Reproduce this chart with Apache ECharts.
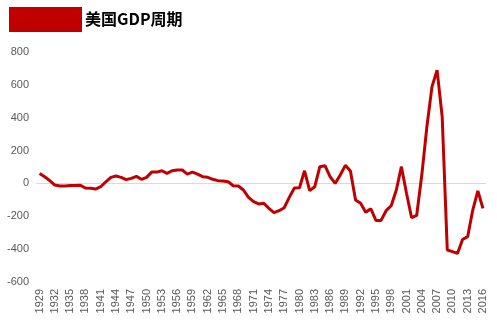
<!DOCTYPE html>
<html>
<head>
<meta charset="utf-8">
<script src="https://cdn.jsdelivr.net/npm/echarts@6/dist/echarts.min.js"></script>
<style>
html,body{margin:0;padding:0;background:#fff;}
#chart{width:497px;height:330px;}
</style>
</head>
<body>
<div id="chart"></div>
<script>
var years = [];
for (var y = 1929; y <= 2016; y++) years.push(String(y));
var gdpCycle = [
  61, 41, 17, -10, -16, -15, -13, -13, -11, -28,
  -30, -34, -20, 10, 37, 45, 37, 23, 31, 43,
  25, 37, 69, 69, 77, 61, 77, 82, 82, 57,
  69, 57, 41, 37, 25, 17, 15, 10, -14, -16,
  -40, -85, -111, -125, -121, -152, -178, -166, -148, -85,
  -28, -26, 77, -44, -20, 102, 108, 41, 0, 51,
  110, 75, -101, -121, -176, -154, -225, -225, -166, -136,
  -40, 102, -60, -209, -194, 51, 345, 589, 690, 406,
  -405, -415, -426, -341, -324, -162, -46, -152
];
var titleText = '美国GDP周期';

var chart = echarts.init(document.getElementById('chart'), null, {renderer: 'canvas'});
chart.setOption({
  animation: false,
  backgroundColor: '#ffffff',
  graphic: [
    {type: 'rect', left: 9, top: 7, shape: {width: 73, height: 25}, style: {fill: '#c00000'}},
    {type: 'text', left: 85, top: 11, style: {text: titleText, fill: '#000', font: 'bold 16px "Noto Sans CJK SC", "Liberation Sans", sans-serif'}}
  ],
  grid: {left: 37, right: 11.5, top: 52, bottom: 48, containLabel: false},
  xAxis: {
    type: 'category',
    data: years,
    boundaryGap: true,
    axisLine: {show: true, lineStyle: {color: '#d9d9d9', width: 1}},
    axisTick: {show: false},
    axisLabel: {
      interval: 2, rotate: 90, margin: 7,
      color: '#595959', fontSize: 11, fontFamily: '"Liberation Sans", Arial, sans-serif'
    },
    splitLine: {show: false}
  },
  yAxis: {
    type: 'value',
    min: -600, max: 800, interval: 200,
    axisLine: {show: false},
    axisTick: {show: false},
    splitLine: {show: false},
    axisLabel: {margin: 8, color: '#595959', fontSize: 11, fontFamily: '"Liberation Sans", Arial, sans-serif'}
  },
  series: [{
    type: 'line',
    data: gdpCycle,
    showSymbol: false,
    symbol: 'none',
    lineStyle: {color: '#c00000', width: 3},
    itemStyle: {color: '#c00000'}
  }]
});
</script>
</body>
</html>
